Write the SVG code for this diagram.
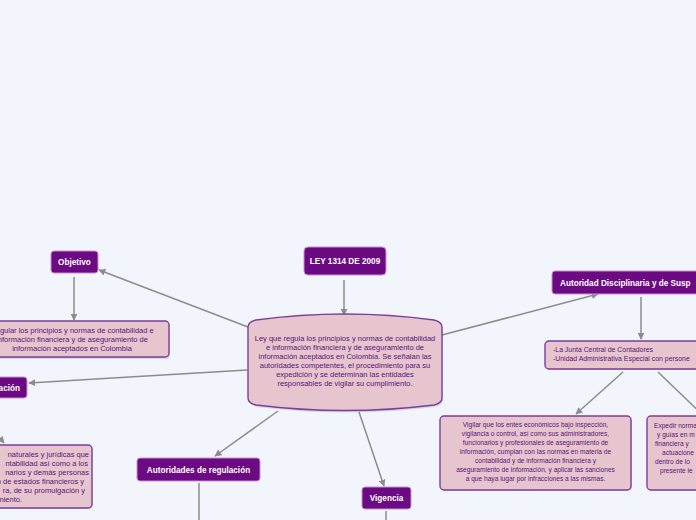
<svg xmlns="http://www.w3.org/2000/svg" width="696" height="520" viewBox="0 0 696 520">
<defs>
<marker id="ah" viewBox="0 0 10 10" refX="9" refY="5" markerWidth="7" markerHeight="7" markerUnits="userSpaceOnUse" orient="auto">
<path d="M0,0 L10,5 L0,10 Z" fill="#8c8c8c"/>
</marker>
<style>
.bg{fill:#f3f5fd}
.c{stroke:#8c8c8c;stroke-width:1.5;fill:none}
.ca{stroke:#8c8c8c;stroke-width:1.5;fill:none;marker-end:url(#ah)}
.pn{fill:#6b0a82;stroke:#c98fcf;stroke-width:1}
.bx{fill:#e7c5cf;stroke:#7b3e9c;stroke-width:1.4}
.sh{fill:#000;opacity:0.12}
.lt{font-family:"Liberation Sans","DejaVu Sans",sans-serif;font-size:8.2px;fill:#ffffff;text-anchor:middle;font-weight:bold}
.tx{font-family:"Liberation Sans","DejaVu Sans",sans-serif;font-size:6.6px;fill:#5a1478;text-anchor:middle}
.tl{font-family:"Liberation Sans","DejaVu Sans",sans-serif;font-size:6.6px;fill:#5a1478}
.big{font-size:7.5px}
</style>
</defs>
<rect class="bg" x="0" y="0" width="696" height="520"/>

<g id="connectors">
<line class="ca" x1="344" y1="280" x2="344" y2="315"/>
<line class="ca" x1="248" y1="327" x2="99" y2="270"/>
<line class="ca" x1="74" y1="277" x2="74" y2="320"/>
<line class="ca" x1="247" y1="370" x2="29" y2="383"/>
<line class="ca" x1="-30" y1="402" x2="4" y2="443"/>
<line class="ca" x1="278" y1="411" x2="215" y2="456"/>
<line class="c" x1="199" y1="483" x2="199" y2="520"/>
<line class="ca" x1="359" y1="412" x2="384" y2="486"/>
<line class="c" x1="386" y1="511" x2="386" y2="520"/>
<line class="ca" x1="442" y1="335" x2="598" y2="294"/>
<line class="ca" x1="641" y1="297" x2="641" y2="339"/>
<line class="ca" x1="623" y1="372" x2="576" y2="414"/>
<line class="c" x1="658" y1="372" x2="706" y2="418"/>
</g>

<g id="title">
<rect class="pn" x="304" y="247" width="82" height="28" rx="4"/>
<text class="lt" x="345" y="264">LEY 1314 DE 2009</text>
</g>

<g id="center">
<path class="sh" d="M249,329 Q249,324 257,322 Q346,310 435,322 Q443,324 443,329 L443,400 Q443,405 435,407 Q346,418 257,407 Q249,405 249,400 Z"/>
<path class="bx" d="M248,327 Q248,322 256,320 Q345,308 434,320 Q442,322 442,327 L442,398 Q442,403 434,405 Q345,416 256,405 Q248,403 248,398 Z"/>
<text class="tx big" x="345" y="341">Ley que regula los principios y normas de contabilidad</text>
<text class="tx big" x="345" y="350">e información financiera y de aseguramiento de</text>
<text class="tx big" x="345" y="359">información aceptados en Colombia. Se señalan las</text>
<text class="tx big" x="345" y="368">autoridades competentes, el procedimiento para su</text>
<text class="tx big" x="345" y="377">expedición y se determinan las entidades</text>
<text class="tx big" x="345" y="386">responsables de vigilar su cumplimiento.</text>
</g>

<g id="objetivo">
<rect class="pn" x="51" y="251" width="47" height="22" rx="3"/>
<text class="lt" x="74.5" y="265">Objetivo</text>
</g>

<g id="objetivo-texto">
<rect class="sh" x="-23" y="322" width="193" height="37" rx="4"/>
<rect class="bx" x="-24" y="321" width="193" height="36" rx="4"/>
<text class="tx big" x="72" y="333">Regular los principios y normas de contabilidad e</text>
<text class="tx big" x="72" y="342">información financiera y de aseguramiento de</text>
<text class="tx big" x="72" y="351">información aceptados en Colombia</text>
</g>

<g id="aplicacion">
<rect class="pn" x="-40" y="377" width="67" height="21" rx="3"/>
<text class="lt" x="20" y="390.5" style="text-anchor:end">ación</text>
</g>

<g id="aplicacion-texto">
<rect class="sh" x="-100" y="446" width="193" height="63" rx="4"/>
<rect class="bx" x="-101" y="445" width="193" height="63" rx="4"/>
<text class="tl big" x="89" y="457" style="text-anchor:end">naturales y jurídicas que</text>
<text class="tl big" x="88" y="466" style="text-anchor:end">ntabilidad así como a los</text>
<text class="tl big" x="89" y="475" style="text-anchor:end">narios y demás personas</text>
<text class="tl big" x="84" y="484" style="text-anchor:end">n de estados financieros y</text>
<text class="tl big" x="85" y="493" style="text-anchor:end">ra, de su promulgación y</text>
<text class="tl big" x="22" y="502" style="text-anchor:end">miento.</text>
</g>

<g id="autoridades-regulacion">
<rect class="pn" x="137" y="458" width="123" height="23" rx="3"/>
<text class="lt" x="198.5" y="472.5">Autoridades de regulación</text>
</g>

<g id="vigencia">
<rect class="pn" x="362" y="487" width="49" height="22" rx="3"/>
<text class="lt" x="386.5" y="501">Vigencia</text>
</g>

<g id="autoridad-disciplinaria">
<rect class="pn" x="552" y="271" width="160" height="23" rx="3"/>
<text class="lt" x="560" y="285.5" style="text-anchor:start">Autoridad Disciplinaria y de Susp</text>
</g>

<g id="entidades">
<rect class="sh" x="546" y="342" width="170" height="28" rx="4"/>
<rect class="bx" x="545" y="341" width="170" height="28" rx="4"/>
<text class="tl" x="553" y="352" style="font-size:6.9px">-La Junta Central de Contadores</text>
<text class="tl" x="553" y="361" style="font-size:6.9px">-Unidad Administrativa Especial con persone</text>
</g>

<g id="vigilar">
<rect class="sh" x="441" y="417" width="191" height="74" rx="4"/>
<rect class="bx" x="440" y="416" width="191" height="74" rx="4"/>
<text class="tx" x="535.5" y="427">Vigilar que los entes económicos bajo inspección,</text>
<text class="tx" x="535.5" y="436">vigilancia o control, así como sus administradores,</text>
<text class="tx" x="535.5" y="445">funcionarios y profesionales de aseguramiento de</text>
<text class="tx" x="535.5" y="454">información, cumplan con las normas en materia de</text>
<text class="tx" x="535.5" y="463">contabilidad y de información financiera y</text>
<text class="tx" x="535.5" y="472">aseguramiento de información, y aplicar las sanciones</text>
<text class="tx" x="535.5" y="481">a que haya lugar por infracciones a las mismas.</text>
</g>

<g id="expedir">
<rect class="sh" x="648" y="417" width="100" height="74" rx="4"/>
<rect class="bx" x="647" y="416" width="100" height="74" rx="4"/>
<text class="tl" x="654" y="428">Expedir norma</text>
<text class="tl" x="657" y="437">y guías en m</text>
<text class="tl" x="655" y="446">financiera y</text>
<text class="tl" x="662" y="455">actuacione</text>
<text class="tl" x="655" y="464">dentro de lo</text>
<text class="tl" x="660" y="473">presente le</text>
</g>
</svg>
